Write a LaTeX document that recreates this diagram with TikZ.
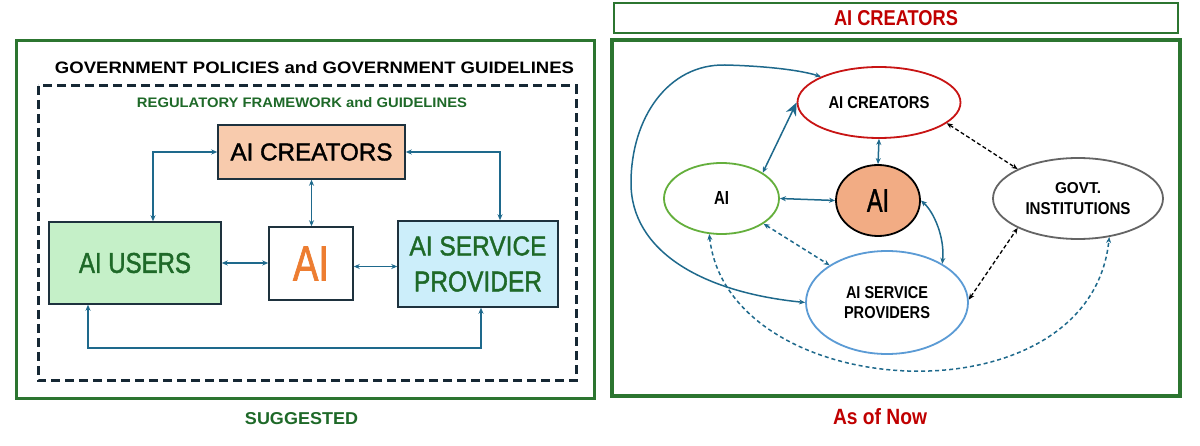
\documentclass[tikz,border=0pt]{standalone}
\usepackage{fontspec}
\usepackage{graphicx}
\setmainfont{Liberation Sans}
\newfontfamily\medfont[FakeBold=1.6]{Liberation Sans}
\usetikzlibrary{arrows.meta,shapes.geometric}
\newcommand\fitt[3]{\resizebox{#1pt}{#2pt}{#3}}
\definecolor{framec}{RGB}{44,117,48}
\definecolor{tgreen}{RGB}{30,105,40}
\definecolor{navyc}{RGB}{22,40,52}
\definecolor{boxline}{RGB}{30,50,62}
\definecolor{peach}{RGB}{248,203,173}
\definecolor{lgreen}{RGB}{197,240,200}
\definecolor{lblue}{RGB}{204,238,250}
\definecolor{orangec}{RGB}{237,125,49}
\definecolor{arrowc}{RGB}{30,105,140}
\definecolor{tred}{RGB}{192,0,0}
\definecolor{ered}{RGB}{200,20,20}
\definecolor{egreen}{RGB}{100,175,60}
\definecolor{salmonc}{RGB}{242,172,132}
\definecolor{egray}{RGB}{100,100,100}
\definecolor{eblue}{RGB}{91,155,213}
\tikzset{
  txt/.style={inner sep=0pt},
  boxn/.style={draw=boxline, line width=1.5pt, inner sep=0pt},
  ell/.style={ellipse, line width=1.8pt, inner sep=0pt},
  conn/.style={draw=arrowc, line width=1.5pt, arrows={Stealth[length=6pt,width=5pt]-Stealth[length=6pt,width=5pt]}},
  rconn/.style={draw=arrowc, line width=1.5pt, arrows={Stealth[length=6pt,width=5pt]-Stealth[length=6pt,width=5pt]}},
  rdash/.style={dash pattern=on 4pt off 3pt},
  bconn/.style={draw=black, line width=1.3pt, dash pattern=on 4pt off 2.5pt, arrows={Stealth[length=6pt,width=5pt]-Stealth[length=6pt,width=5pt]}}
}
\begin{document}
\begin{tikzpicture}[x=1pt,y=-1pt]
\useasboundingbox (0,0) rectangle (1200,446);
\fill[white] (0,0) rectangle (1200,446);

% ---------------- left panel ----------------
\draw[framec, line width=3pt] (16,41) rectangle (594,398);
\draw[navyc, line width=3pt, dash pattern=on 9pt off 5pt] (38,86) rectangle (576,381);
\node[txt] (t1) at (314.5,68) {\fitt{519}{12}{\bfseries GOVERNMENT POLICIES and GOVERNMENT GUIDELINES}};
\node[txt, text=tgreen] (t2) at (302,103) {\fitt{330}{10}{\bfseries REGULATORY FRAMEWORK and GUIDELINES}};

\node[boxn, fill=peach, minimum width=187pt, minimum height=54pt] (cre) at (311.5,152) {\fitt{162}{17}{\medfont AI CREATORS}};
\node[boxn, fill=lgreen, minimum width=172pt, minimum height=82pt, text=tgreen] (users) at (135,263) {\fitt{112}{20}{\medfont AI USERS}};
\node[boxn, fill=white, minimum width=84pt, minimum height=73pt, text=orangec] (ai) at (311,263.5) {\fitt{36}{34}{\medfont AI}};
\node[boxn, fill=lblue, minimum width=160pt, minimum height=86pt, text=tgreen, align=center, font=\fontsize{10}{36}\selectfont] (aisp) at (478,264) {\fitt{137}{19}{\medfont AI SERVICE}\\\fitt{128}{20}{\medfont PROVIDER}};

\draw[conn] (cre.west) -| ([xshift=18pt]users.north);
\draw[conn] (cre.east) -| ([xshift=22pt]aisp.north);
\draw[conn] (cre.south) -- (cre.south |- ai.north);
\draw[conn] (users.east) -- (users.east -| ai.west);
\draw[conn] ([yshift=-3pt]ai.east) -- ([yshift=-3pt]ai.east -| aisp.west);
\coordinate (lb) at (88,348);
\draw[conn] (users.south -| lb) -- (lb) -| ([xshift=3pt]aisp.south);

\node[txt, text=tgreen] (sug) at (301.5,419) {\fitt{113}{12}{\bfseries SUGGESTED}};

% ---------------- right panel ----------------
\node[draw=framec, line width=2pt, minimum width=564pt, minimum height=30pt, inner sep=0pt, text=tred] (topbox) at (896,18) {\fitt{124}{15}{\bfseries AI CREATORS}};
\draw[framec, line width=3.5pt] (612,40) rectangle (1180,396);
\node[txt, text=tred] (now) at (880,417) {\fitt{94}{16}{\bfseries As of Now}};

\node[ell, draw=ered, minimum width=163pt, minimum height=71pt] (rcre) at (879,102.5) {\fitt{101}{12}{\bfseries AI CREATORS}};
\node[ell, draw=egreen, minimum width=115pt, minimum height=71pt] (rai) at (721.5,198.5) {\fitt{15}{13}{\bfseries AI}};
\node[ell, draw=black, fill=salmonc, minimum width=84pt, minimum height=71pt] (rcir) at (878,200.5) {\fitt{22}{22}{\medfont AI}};
\node[ell, draw=egray, minimum width=170pt, minimum height=81pt, align=center, font=\fontsize{10}{21}\selectfont] (gov) at (1078,198.5) {\fitt{46}{11}{\bfseries GOVT.}\\\fitt{105}{12}{\bfseries INSTITUTIONS}};
\node[ell, draw=eblue, minimum width=162pt, minimum height=103pt, align=center, font=\fontsize{10}{20}\selectfont] (raisp) at (887,302.5) {\fitt{82}{12}{\bfseries AI SERVICE}\\\fitt{86}{12}{\bfseries PROVIDERS}};

\draw[rconn, arrows={Stealth[length=6pt,width=5pt]-Stealth[length=13pt,width=11pt]}] (rai.32) -- (rcre.west);
\draw[rconn] (rcre.south) -- (rcir.north);
\draw[rconn] (rai.east) -- (rcir.west);
\draw[rconn] (rcir.east) .. controls (934,212) and (945,238) .. (raisp.35);
\draw[rconn, rdash] (rai.329) -- (raisp.147);
\draw[rconn, rdash] (rai.251) .. controls (728,405) and (1090,425) .. (gov.309);
\draw[bconn] (rcre.343) -- (gov.154);
\draw[bconn] (raisp.2) -- (gov.206);
\draw[rconn] (raisp.west) .. controls (700,292) and (631,250) .. (631,183) .. controls (631,118) and (668,64) .. (725,65) .. controls (765,66) and (800,70) .. (rcre.156);
\end{tikzpicture}
\end{document}
